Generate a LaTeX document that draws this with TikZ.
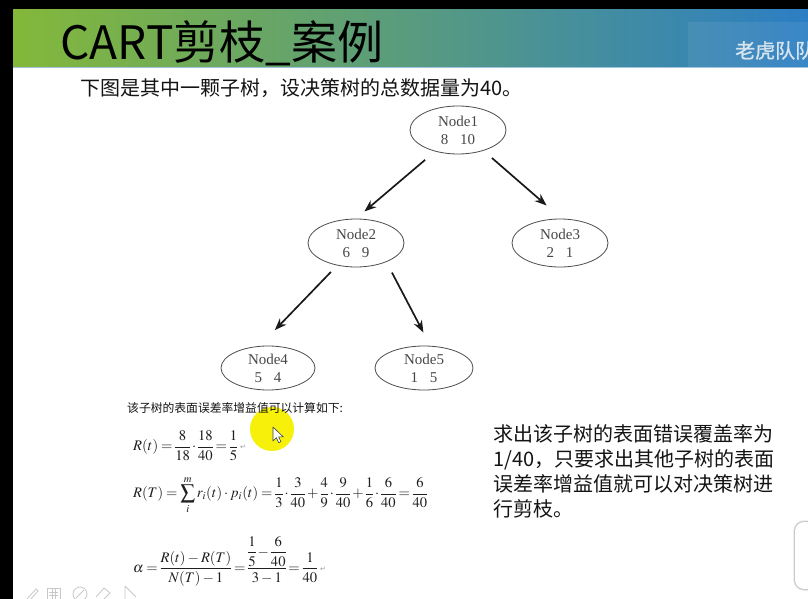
\documentclass[tikz,border=0pt]{standalone}
\usepackage{amsmath}
\usepackage{mathptmx}
\usepackage[no-math]{fontspec}
\usepackage{graphicx}
\usetikzlibrary{shapes.geometric,arrows.meta}
\newfontfamily\cjk{Noto Sans CJK SC}
\newfontfamily\cjkheavy[FakeBold=1.2]{Noto Sans CJK SC}
\newfontfamily\nodefont{Liberation Serif}
\newfontfamily\symfont{DejaVu Sans}
\definecolor{bannerL}{RGB}{132,184,58}
\definecolor{bannerM}{RGB}{84,156,140}
\definecolor{bannerR}{RGB}{44,126,196}
\definecolor{bannerEdge}{RGB}{160,196,222}
\definecolor{brandtxt}{RGB}{214,228,238}
\definecolor{marker}{RGB}{246,240,10}
\definecolor{faint}{RGB}{200,200,200}
% compact spacing inside the formulas
\newcommand{\tightmath}{\thinmuskip=2mu\medmuskip=2.5mu plus 1mu\thickmuskip=3.5mu plus 1mu\nulldelimiterspace=0pt}
\begin{document}
\begin{tikzpicture}[x=1pt,y=-1pt,
  tnode/.style={ellipse, draw=black!70, line width=0.8pt, minimum width=96pt,
    minimum height=48pt, inner sep=0pt, align=center,
    font=\nodefont\fontsize{15}{18}\selectfont, text=black!72},
  link/.style={-{Stealth[length=12pt,width=9pt]}, line width=1.7pt, black!90},
  body/.style={inner sep=0pt, text=black!92},
  mathline/.style={inner sep=0pt, text=black!88, font=\tightmath},
  retmark/.style={inner sep=0pt, text=black!40, font=\symfont\fontsize{7}{7}\selectfont},
  icon/.style={draw=faint, line width=0.8pt}
]
\useasboundingbox (0,0) rectangle (808,599);
\fill[white] (0,0) rectangle (808,599);

% frame and title banner
\fill[black] (0,0) rectangle (808,10);
\fill[black] (0,0) rectangle (13,599);
\shade[left color=bannerL, middle color=bannerM, right color=bannerR] (13,10) rectangle (808,68);
\fill[white, opacity=0.07] (688,22) rectangle (808,68);
\draw[line width=1pt, bannerEdge] (13,68) -- (808,68);
\node[anchor=west, inner sep=0pt, font=\cjk\fontsize{46}{46}\selectfont] (title) at (60,43) {CART剪枝\_案例};
\node[anchor=base west, inner sep=0pt, text=brandtxt, font=\cjkheavy\fontsize{20}{20}\selectfont] (brand) at (735,58) {老虎队队};

\node[body, anchor=west, font=\cjk\fontsize{20}{20}\selectfont] (intro) at (80,88) {下图是其中一颗子树，设决策树的总数据量为40。};

% tree
\node[tnode] (n1) at (458,130) {Node1\\8\hspace{12pt}10};
\node[tnode] (n2) at (356,243) {Node2\\6\hspace{12pt}9};
\node[tnode] (n3) at (560,243) {Node3\\2\hspace{12pt}1};
\node[tnode, minimum width=94pt, minimum height=44pt] (n4) at (268,368) {Node4\\5\hspace{12pt}4};
\node[tnode, minimum width=98pt, minimum height=44pt] (n5) at (424,368) {Node5\\1\hspace{12pt}5};

\draw[link, shorten <=13pt, shorten >=11pt] (n1.223) -- (n2.90);
\draw[link, shorten <=11pt, shorten >=20pt] (n1.321) -- (n3.86);
\draw[link, shorten <=9pt, shorten >=22pt] (n2.230) -- (n4.111);
\draw[link, shorten <=12pt, shorten >=15pt] (n2.328) -- (n5.74);

% highlight circle behind the caption
\fill[marker] (272,429) circle (22);

\node[body, anchor=west, font=\cjk\fontsize{11.8}{12}\selectfont] (calc) at (127,408) {该子树的表面误差率增益值可以计算如下:};

% formulas
\node[mathline, anchor=west] (frt) at (133,446)
  {\resizebox{104pt}{!}{$\displaystyle R(t)=\frac{8}{18}\cdot\frac{18}{40}=\frac{1}{5}$}};
\node[retmark, anchor=west] (ret1) at (240,447) {↵};
\node[mathline, anchor=west] (frT) at (133,495)
  {\resizebox{294pt}{!}{$\displaystyle R(T)=\sum_{i}^{m} r_i(t)\cdot p_i(t)=\frac{1}{3}\cdot\frac{3}{40}+\frac{4}{9}\cdot\frac{9}{40}+\frac{1}{6}\cdot\frac{6}{40}=\frac{6}{40}$}};
\node[mathline, anchor=west] (falpha) at (133,561)
  {\resizebox{184pt}{!}{$\displaystyle \alpha=\frac{R(t)-R(T)}{N(T)-1}=\frac{\dfrac{1}{5}-\dfrac{6}{40}}{3-1}=\frac{1}{40}$}};
\node[retmark, anchor=west] (ret2) at (320,569) {↵};

% mouse pointer
\draw[fill=white, draw=black!75, line width=0.6pt, line join=round]
  (273,427) -- ++(0,14) -- ++(3.4,-3.3) -- ++(2.3,5) -- ++(2.2,-1) -- ++(-2.2,-4.8) -- ++(4.6,0) -- cycle;

% explanation text
\node[body, anchor=north west, align=left, font=\cjk\fontsize{20}{25}\selectfont] (note) at (493,424)
  {求出该子树的表面错误覆盖率为\\1/40，只要求出其他子树的表面\\误差率增益值就可以对决策树进\\行剪枝。};

% faint presenter tools along the lower edge
\draw[icon] (27,599) -- (36,589) -- (38,591) -- (29,601);
\draw[icon] (47,588) rectangle (60,601);
\draw[icon] (49,592) -- (58,592) (49,595) -- (58,595) (52,588) -- (52,601) (55,588) -- (55,601);
\draw[icon] (80,594) circle (7);
\draw[icon] (76,598) -- (84,590);
\draw[icon] (96,597) -- (104,588) -- (110,593) -- (102,601);
\draw[icon] (125,586) -- (125,601) (125,586) -- (136,597);

% side tab at the right edge
\foreach \w/\o in {4/0.04,3/0.06,2/0.08,1/0.12}
  \draw[line width=\w pt, black, opacity=\o, rounded corners=9pt] (795,522) rectangle (820,589);
\fill[white, rounded corners=9pt] (795,522) rectangle (820,589);
\end{tikzpicture}
\end{document}
